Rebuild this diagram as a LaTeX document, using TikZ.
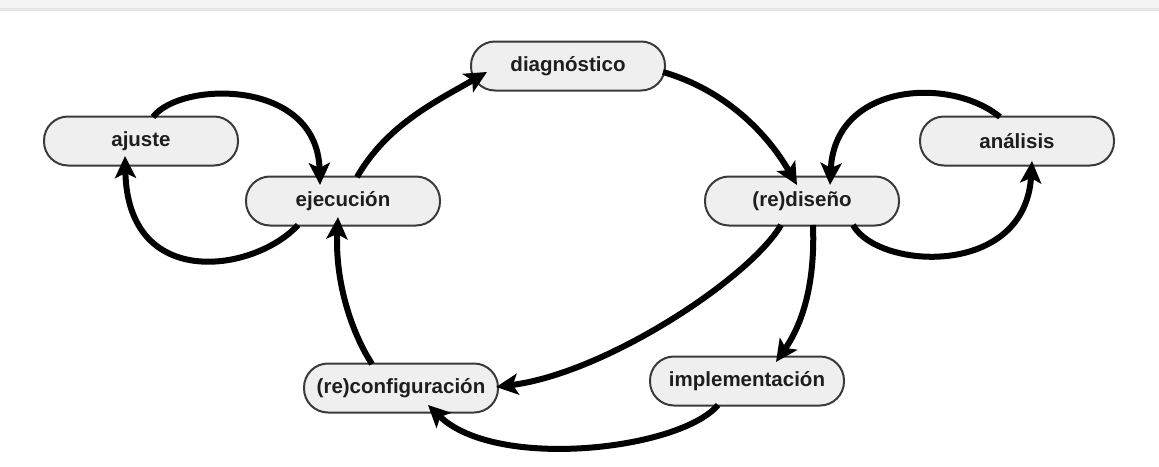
\documentclass[tikz,border=0pt]{standalone}
\usepackage{fontspec}
\setmainfont{Liberation Sans}
\usetikzlibrary{arrows.meta,calc}
\definecolor{boxfill}{HTML}{EFEFEF}
\definecolor{boxline}{HTML}{3A3A3A}
\definecolor{bandfill}{HTML}{F3F3F3}
\definecolor{bandline}{HTML}{E4E4E4}
\definecolor{labeltext}{HTML}{1E1E1E}
\begin{document}
\begin{tikzpicture}[x=1pt,y=-1pt,
  stage/.style={draw=boxline, line width=2pt, fill=boxfill, rounded corners=24pt,
    minimum width=194pt, minimum height=49pt, inner sep=0pt, text=labeltext,
    font=\fontsize{20.5}{24}\selectfont\bfseries},
  flow/.style={line width=6pt, draw=black,
    -{Stealth[length=22pt,width=21pt,inset=5pt]}}]
% page and top band
\fill[white] (0,0) rectangle (1159,466);
\useasboundingbox (0,0) rectangle (1159,466);
\fill[bandfill] (0,0) rectangle (1159,8);
\fill[bandline] (0,8) rectangle (1159,11);

% stages of the cycle
\node[stage] (diag)   at (568,66)  {diagnóstico};
\node[stage] (ajuste) at (141,141) {ajuste};
\node[stage] (ejec)   at (343,201) {ejecución};
\node[stage] (redis)  at (802,201) {(re)diseño};
\node[stage] (anal)   at (1017,141) {análisis};
\node[stage] (reconf) at (401,388) {(re)configuración};
\node[stage] (impl)   at (747,381) {implementación};

% main cycle
\draw[flow] ($(ejec.center)+(14,-24)$) .. controls +(30,-52) and +(-52,30) .. ($(diag.center)+(-81,6)$);
\draw[flow] ($(diag.center)+(95,6)$) .. controls +(62,18) and +(-30,-52) .. ($(redis.center)+(-5,-16)$);
\draw[flow] ($(redis.center)+(-21,24)$) .. controls +(-31,53) and +(110,-14) .. ($(reconf.center)+(95,-1)$);
\draw[flow] ($(reconf.center)+(-29,-24)$) .. controls +(-22,-34) and +(-3,62) .. ($(ejec.center)+(-5,16)$);

% design / implementation branch
\draw[flow] ($(redis.center)+(11,24)$) .. controls +(2,53) and +(29,-42) .. ($(impl.center)+(29,-19)$);
\draw[flow] ($(impl.center)+(-29,24)$) .. controls +(-38,45) and +(68,66) .. ($(reconf.center)+(27,17)$);

% adjustment loop
\draw[flow] ($(ajuste.center)+(12,-24)$) .. controls +(27,-36) and +(-3,-107) .. ($(ejec.center)+(-23,-16)$);
\draw[flow] ($(ejec.center)+(-45,24)$) .. controls +(-43,47) and +(3,136) .. ($(ajuste.center)+(-16,15)$);

% analysis loop
\draw[flow] ($(anal.center)+(-17,-24)$) .. controls +(-50,-41) and +(5,-102) .. ($(redis.center)+(28,-16)$);
\draw[flow] ($(redis.center)+(51,24)$) .. controls +(25,45) and +(-7,117) .. ($(anal.center)+(15,20)$);
\end{tikzpicture}
\end{document}
